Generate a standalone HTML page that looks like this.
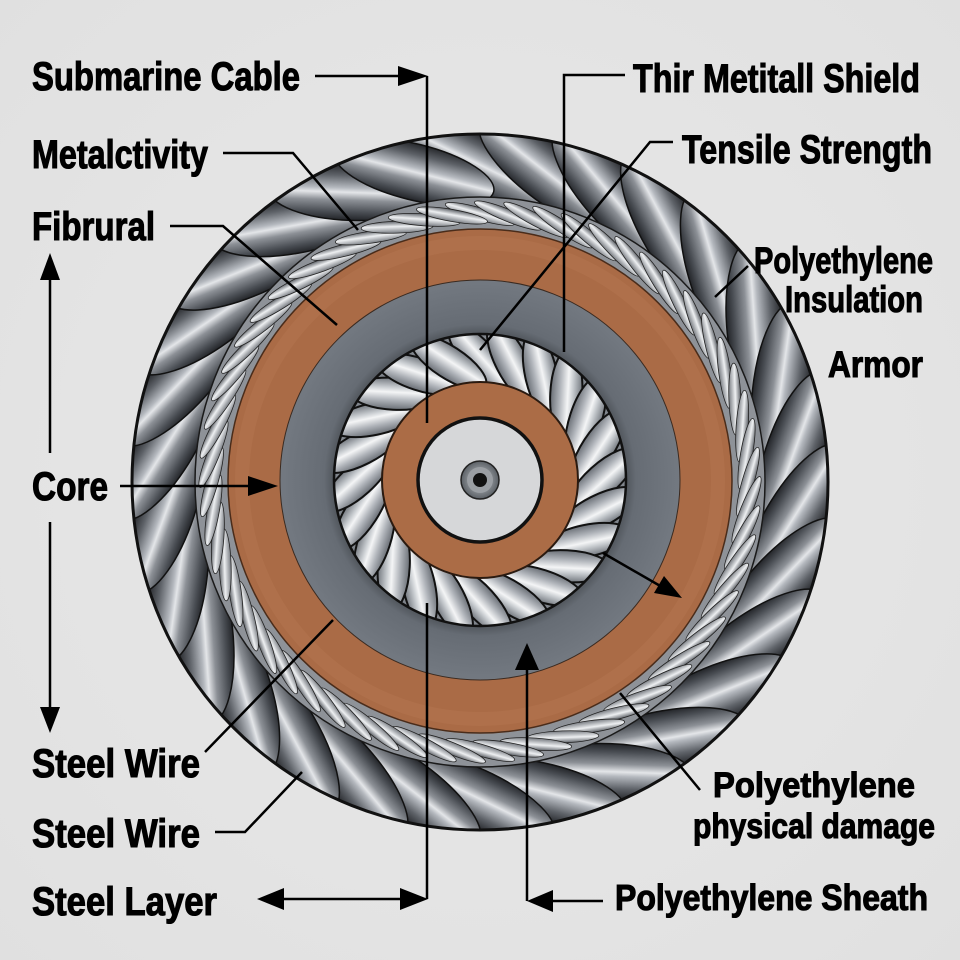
<!DOCTYPE html>
<html><head><meta charset="utf-8"><style>
html,body{margin:0;padding:0;background:#e5e5e5;}
svg{display:block;}
text{font-family:"Liberation Sans",Arial,sans-serif;font-weight:bold;fill:#000;stroke:#000;stroke-width:1.1;}
</style></head><body>
<svg width="960" height="960" viewBox="0 0 960 960" xmlns="http://www.w3.org/2000/svg">
<defs>
<radialGradient id="bgg" cx="480" cy="480" r="700" gradientUnits="userSpaceOnUse">
<stop offset="0" stop-color="#e9e9e9"/><stop offset="1" stop-color="#e0e0e0"/></radialGradient>
<linearGradient id="og" x1="0" y1="0" x2="0" y2="1">
<stop offset="0" stop-color="#26282c"/><stop offset="0.2" stop-color="#5e6268"/><stop offset="0.42" stop-color="#b4b8be"/><stop offset="0.5" stop-color="#e4e6e9"/><stop offset="0.64" stop-color="#8c9096"/><stop offset="0.85" stop-color="#4a4e54"/><stop offset="1" stop-color="#222428"/></linearGradient>
<linearGradient id="tg" x1="0" y1="0" x2="0" y2="1">
<stop offset="0" stop-color="#5e6268"/><stop offset="0.45" stop-color="#eef0f2"/><stop offset="1" stop-color="#767a80"/></linearGradient>
<linearGradient id="ig" x1="0" y1="0" x2="0" y2="1">
<stop offset="0" stop-color="#70757c"/><stop offset="0.3" stop-color="#c8ccd0"/><stop offset="0.45" stop-color="#f4f5f6"/><stop offset="0.7" stop-color="#b0b4ba"/><stop offset="1" stop-color="#686d74"/></linearGradient>
<radialGradient id="gd" cx="480" cy="480" r="200" gradientUnits="userSpaceOnUse">
<stop offset="0.72" stop-color="#4c5157"/><stop offset="0.78" stop-color="#666c74"/><stop offset="1" stop-color="#737981"/></radialGradient>
<radialGradient id="cr" cx="480" cy="480" r="20" gradientUnits="userSpaceOnUse">
<stop offset="0" stop-color="#c8ccd0"/><stop offset="1" stop-color="#555a60"/></radialGradient>
<clipPath id="co"><circle cx="480" cy="482" r="348"/></clipPath>
<clipPath id="ct"><circle cx="480" cy="482" r="285"/></clipPath>
<clipPath id="ci"><circle cx="480" cy="480" r="146"/></clipPath>
<ellipse id="os" cx="480" cy="165" rx="82" ry="28" transform="rotate(26 480 165)" fill="url(#og)" stroke="#111" stroke-width="1.5"/>
<ellipse id="ts" cx="480" cy="214" rx="36" ry="6" transform="rotate(16 480 214)" fill="url(#tg)" stroke="#222" stroke-width="0.8"/>
<ellipse id="is" cx="480" cy="358" rx="44" ry="16" transform="rotate(48 480 358)" fill="url(#ig)" stroke="#111" stroke-width="2"/>
</defs>
<rect width="960" height="960" fill="url(#bgg)"/>

<!-- outer thick rope -->
<circle cx="480" cy="482" r="349" fill="#55595f"/>
<g clip-path="url(#co)">
<use href="#os"/><use href="#os" transform="rotate(12 480 482)"/><use href="#os" transform="rotate(24 480 482)"/><use href="#os" transform="rotate(36 480 482)"/><use href="#os" transform="rotate(48 480 482)"/><use href="#os" transform="rotate(60 480 482)"/><use href="#os" transform="rotate(72 480 482)"/><use href="#os" transform="rotate(84 480 482)"/><use href="#os" transform="rotate(96 480 482)"/><use href="#os" transform="rotate(108 480 482)"/><use href="#os" transform="rotate(120 480 482)"/><use href="#os" transform="rotate(132 480 482)"/><use href="#os" transform="rotate(144 480 482)"/><use href="#os" transform="rotate(156 480 482)"/><use href="#os" transform="rotate(168 480 482)"/><use href="#os" transform="rotate(180 480 482)"/><use href="#os" transform="rotate(192 480 482)"/><use href="#os" transform="rotate(204 480 482)"/><use href="#os" transform="rotate(216 480 482)"/><use href="#os" transform="rotate(228 480 482)"/><use href="#os" transform="rotate(240 480 482)"/><use href="#os" transform="rotate(252 480 482)"/><use href="#os" transform="rotate(264 480 482)"/><use href="#os" transform="rotate(276 480 482)"/><use href="#os" transform="rotate(288 480 482)"/><use href="#os" transform="rotate(300 480 482)"/><use href="#os" transform="rotate(312 480 482)"/><use href="#os" transform="rotate(324 480 482)"/><use href="#os" transform="rotate(336 480 482)"/><use href="#os" transform="rotate(348 480 482)"/>
</g>
<circle cx="480" cy="482" r="348" fill="none" stroke="#111" stroke-width="3"/>

<!-- thin rope -->
<circle cx="480" cy="482" r="285" fill="#8e9298"/>
<g clip-path="url(#ct)">
<use href="#ts"/><use href="#ts" transform="rotate(6 480 482)"/><use href="#ts" transform="rotate(12 480 482)"/><use href="#ts" transform="rotate(18 480 482)"/><use href="#ts" transform="rotate(24 480 482)"/><use href="#ts" transform="rotate(30 480 482)"/><use href="#ts" transform="rotate(36 480 482)"/><use href="#ts" transform="rotate(42 480 482)"/><use href="#ts" transform="rotate(48 480 482)"/><use href="#ts" transform="rotate(54 480 482)"/><use href="#ts" transform="rotate(60 480 482)"/><use href="#ts" transform="rotate(66 480 482)"/><use href="#ts" transform="rotate(72 480 482)"/><use href="#ts" transform="rotate(78 480 482)"/><use href="#ts" transform="rotate(84 480 482)"/><use href="#ts" transform="rotate(90 480 482)"/><use href="#ts" transform="rotate(96 480 482)"/><use href="#ts" transform="rotate(102 480 482)"/><use href="#ts" transform="rotate(108 480 482)"/><use href="#ts" transform="rotate(114 480 482)"/><use href="#ts" transform="rotate(120 480 482)"/><use href="#ts" transform="rotate(126 480 482)"/><use href="#ts" transform="rotate(132 480 482)"/><use href="#ts" transform="rotate(138 480 482)"/><use href="#ts" transform="rotate(144 480 482)"/><use href="#ts" transform="rotate(150 480 482)"/><use href="#ts" transform="rotate(156 480 482)"/><use href="#ts" transform="rotate(162 480 482)"/><use href="#ts" transform="rotate(168 480 482)"/><use href="#ts" transform="rotate(174 480 482)"/><use href="#ts" transform="rotate(180 480 482)"/><use href="#ts" transform="rotate(186 480 482)"/><use href="#ts" transform="rotate(192 480 482)"/><use href="#ts" transform="rotate(198 480 482)"/><use href="#ts" transform="rotate(204 480 482)"/><use href="#ts" transform="rotate(210 480 482)"/><use href="#ts" transform="rotate(216 480 482)"/><use href="#ts" transform="rotate(222 480 482)"/><use href="#ts" transform="rotate(228 480 482)"/><use href="#ts" transform="rotate(234 480 482)"/><use href="#ts" transform="rotate(240 480 482)"/><use href="#ts" transform="rotate(246 480 482)"/><use href="#ts" transform="rotate(252 480 482)"/><use href="#ts" transform="rotate(258 480 482)"/><use href="#ts" transform="rotate(264 480 482)"/><use href="#ts" transform="rotate(270 480 482)"/><use href="#ts" transform="rotate(276 480 482)"/><use href="#ts" transform="rotate(282 480 482)"/><use href="#ts" transform="rotate(288 480 482)"/><use href="#ts" transform="rotate(294 480 482)"/><use href="#ts" transform="rotate(300 480 482)"/><use href="#ts" transform="rotate(306 480 482)"/><use href="#ts" transform="rotate(312 480 482)"/><use href="#ts" transform="rotate(318 480 482)"/><use href="#ts" transform="rotate(324 480 482)"/><use href="#ts" transform="rotate(330 480 482)"/><use href="#ts" transform="rotate(336 480 482)"/><use href="#ts" transform="rotate(342 480 482)"/><use href="#ts" transform="rotate(348 480 482)"/><use href="#ts" transform="rotate(354 480 482)"/>
</g>
<circle cx="480" cy="482" r="285" fill="none" stroke="#1a1a1a" stroke-width="1.5"/>

<!-- outer brown sheath -->
<circle cx="480" cy="481" r="252" fill="#aa6b46" stroke="#4a2c1a" stroke-width="1.5"/>
<circle cx="480" cy="481" r="238" fill="none" stroke="#b57752" stroke-width="14" opacity="0.45"/>
<!-- gray layer -->
<circle cx="480" cy="480" r="200" fill="url(#gd)" stroke="#3a2a20" stroke-width="1"/>

<!-- inner rope -->
<circle cx="480" cy="480" r="146" fill="#80858c"/>
<g clip-path="url(#ci)">
<use href="#is"/><use href="#is" transform="rotate(15 480 480)"/><use href="#is" transform="rotate(30 480 480)"/><use href="#is" transform="rotate(45 480 480)"/><use href="#is" transform="rotate(60 480 480)"/><use href="#is" transform="rotate(75 480 480)"/><use href="#is" transform="rotate(90 480 480)"/><use href="#is" transform="rotate(105 480 480)"/><use href="#is" transform="rotate(120 480 480)"/><use href="#is" transform="rotate(135 480 480)"/><use href="#is" transform="rotate(150 480 480)"/><use href="#is" transform="rotate(165 480 480)"/><use href="#is" transform="rotate(180 480 480)"/><use href="#is" transform="rotate(195 480 480)"/><use href="#is" transform="rotate(210 480 480)"/><use href="#is" transform="rotate(225 480 480)"/><use href="#is" transform="rotate(240 480 480)"/><use href="#is" transform="rotate(255 480 480)"/><use href="#is" transform="rotate(270 480 480)"/><use href="#is" transform="rotate(285 480 480)"/><use href="#is" transform="rotate(300 480 480)"/><use href="#is" transform="rotate(315 480 480)"/><use href="#is" transform="rotate(330 480 480)"/><use href="#is" transform="rotate(345 480 480)"/>
</g>
<circle cx="480" cy="480" r="146" fill="none" stroke="#111" stroke-width="2.5"/>

<!-- inner brown -->
<circle cx="480" cy="480" r="98" fill="#ab6c46" stroke="#2a1a10" stroke-width="2"/>
<!-- silver conductor -->
<circle cx="480" cy="480" r="62" fill="#d6d7d9" stroke="#111" stroke-width="3.5"/>
<circle cx="480" cy="480" r="19" fill="url(#cr)" stroke="#222" stroke-width="1.5"/>
<circle cx="480" cy="480" r="13" fill="#9a9ea3"/>
<circle cx="480" cy="480" r="7" fill="#111"/>

<!-- connectors -->
<g stroke="#000" stroke-width="2.5" fill="none">
<path d="M315,76 H402"/>
<path d="M427,76 V423"/>
<path d="M427,603 V899"/>
<path d="M282,899 H402"/>
<path d="M223,153 H293 L358,230"/>
<path d="M170,226 H223 L337,325"/>
<path d="M50,278 V453"/>
<path d="M50,522 V708"/>
<path d="M120,486 H250"/>
<path d="M205,752 L333,620"/>
<path d="M215,832 H245 L302,772"/>
<path d="M625,75 H564 V352"/>
<path d="M673,142 H650 L480,350"/>
<path d="M748,266 L715,297"/>
<path d="M603,553 L662,587"/>
<path d="M700,790 L620,693"/>
<path d="M603,901 H550"/>
<path d="M527,901 V668"/>
</g>
<g fill="#000">
<polygon points="428,76 398,66 398,86"/>
<polygon points="257,899 284,888 284,910"/>
<polygon points="428,899 400,888 400,910"/>
<polygon points="50,253 40,280 60,280"/>
<polygon points="50,733 40,707 60,707"/>
<polygon points="278,486 248,476 248,496"/>
<polygon points="682,598 664,576 654,593"/>
<polygon points="527,901 553,890 553,912"/>
<polygon points="527,643 515,670 539,670"/>
</g>

<!-- labels -->
<text x="32" y="90" font-size="40" textLength="268" lengthAdjust="spacingAndGlyphs">Submarine Cable</text>
<text x="32" y="168" font-size="40" textLength="176" lengthAdjust="spacingAndGlyphs">Metalctivity</text>
<text x="32" y="240" font-size="40" textLength="123" lengthAdjust="spacingAndGlyphs">Fibrural</text>
<text x="32" y="500" font-size="40" textLength="76" lengthAdjust="spacingAndGlyphs">Core</text>
<text x="32" y="777" font-size="40" textLength="168" lengthAdjust="spacingAndGlyphs">Steel Wire</text>
<text x="32" y="847" font-size="40" textLength="168" lengthAdjust="spacingAndGlyphs">Steel Wire</text>
<text x="32" y="915" font-size="40" textLength="185" lengthAdjust="spacingAndGlyphs">Steel Layer</text>
<text x="633" y="92" font-size="40" textLength="287" lengthAdjust="spacingAndGlyphs">Thir Metitall Shield</text>
<text x="682" y="163" font-size="40" textLength="250" lengthAdjust="spacingAndGlyphs">Tensile Strength</text>
<text x="754" y="273" font-size="37" textLength="179" lengthAdjust="spacingAndGlyphs">Polyethylene</text>
<text x="785" y="312" font-size="37" textLength="138" lengthAdjust="spacingAndGlyphs">Insulation</text>
<text x="828" y="377" font-size="37" textLength="95" lengthAdjust="spacingAndGlyphs">Armor</text>
<text x="713" y="797" font-size="35" textLength="202" lengthAdjust="spacingAndGlyphs">Polyethylene</text>
<text x="693" y="838" font-size="35" textLength="242" lengthAdjust="spacingAndGlyphs">physical damage</text>
<text x="615" y="910" font-size="36" textLength="313" lengthAdjust="spacingAndGlyphs">Polyethylene Sheath</text>
</svg>
</body></html>
